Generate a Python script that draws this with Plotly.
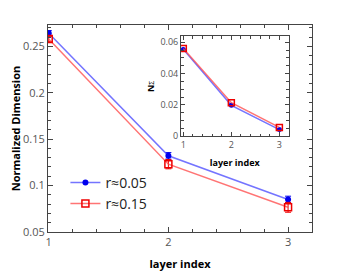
import plotly.graph_objects as go

layers = [1, 2, 3]
main_r005 = [0.264, 0.132, 0.085]
main_r005_err = [0.003, 0.0035, 0.0035]
main_r015 = [0.258, 0.123, 0.0765]
main_r015_err = [0.003, 0.005, 0.0053]
inset_r005 = [0.0555, 0.0198, 0.0043]
inset_r015 = [0.0560, 0.0215, 0.0057]
series_names = ["r≈0.05", "r≈0.15"]

BLUE_LINE = "rgba(70,70,255,0.75)"
BLUE = "#0000ee"
RED_LINE = "rgba(255,70,70,0.75)"
RED = "#ee0000"
AX = "#444444"
TICKC = "#555555"
FONT = "Open Sans, Noto Sans, DejaVu Sans"

fig = go.Figure()
fig.add_trace(go.Scatter(
    x=layers, y=main_r005, name=series_names[0], mode="lines+markers",
    line=dict(color=BLUE_LINE, width=1.5),
    marker=dict(symbol="circle", size=6, color=BLUE),
    error_y=dict(type="data", array=main_r005_err, color=BLUE, thickness=1, width=3),
))
fig.add_trace(go.Scatter(
    x=layers, y=main_r015, name=series_names[1], mode="lines+markers",
    line=dict(color=RED_LINE, width=1.5),
    marker=dict(symbol="square-open", size=7, color=RED, line=dict(width=1.5, color=RED)),
    error_y=dict(type="data", array=main_r015_err, color=RED, thickness=1, width=3),
))
fig.add_trace(go.Scatter(
    x=layers, y=inset_r005, mode="lines+markers", showlegend=False,
    xaxis="x2", yaxis="y2",
    line=dict(color=BLUE_LINE, width=1.5),
    marker=dict(symbol="circle", size=5, color=BLUE),
))
fig.add_trace(go.Scatter(
    x=layers, y=inset_r015, mode="lines+markers", showlegend=False,
    xaxis="x2", yaxis="y2",
    line=dict(color=RED_LINE, width=1.5),
    marker=dict(symbol="square-open", size=6, color=RED, line=dict(width=1.5, color=RED)),
))

common = dict(showline=True, linecolor=AX, linewidth=1, mirror="ticks", ticks="inside",
              tickcolor=AX, showgrid=False, zeroline=False, automargin=False)

fig.update_layout(
    width=349, height=279,
    margin=dict(l=39.5, r=44.5, t=16.5, b=54.5, autoexpand=False),
    paper_bgcolor="white", plot_bgcolor="white",
    font=dict(family=FONT, color=TICKC),
    showlegend=True,
    legend=dict(x=0.066, y=0.315, xanchor="left", yanchor="top",
                bgcolor="rgba(0,0,0,0)", font=dict(size=14, color="#222222", family=FONT),
                tracegroupgap=0, itemwidth=30),
    xaxis=dict(range=[0.994, 3.2], tickvals=[1, 2, 3], ticklen=5,
               tickfont=dict(size=11, color=TICKC),
               minor=dict(dtick=0.2, tick0=1, ticks="inside", ticklen=3, tickcolor=AX),
               title=dict(text="<b>layer index</b>", font=dict(size=11, color="black"), standoff=12),
               **common),
    yaxis=dict(range=[0.0499, 0.273], tickvals=[0.05, 0.1, 0.15, 0.2, 0.25],
               ticktext=["0.05", "0.1", "0.15", "0.2", "0.25"], ticklen=5,
               tickfont=dict(size=11, color=TICKC),
               minor=dict(dtick=0.01, tick0=0.05, ticks="inside", ticklen=3, tickcolor=AX),
               title=dict(text="<b>Normalized Dimension</b>", font=dict(size=11, color="black"), standoff=6),
               **common),
    xaxis2=dict(domain=[0.504, 0.911], anchor="y2", range=[0.953, 3.19], tickvals=[1, 2, 3],
                ticklen=4, tickfont=dict(size=9, color=TICKC),
                minor=dict(dtick=0.2, tick0=1, ticks="inside", ticklen=2.5, tickcolor=AX),
                title=dict(text="<b>layer index</b>", font=dict(size=9, color="black"), standoff=9),
                **common),
    yaxis2=dict(domain=[0.4615, 0.945], anchor="x2", range=[-0.0001, 0.0638],
                tickvals=[0, 0.02, 0.04, 0.06], ticktext=["0", "0.02", "0.04", "0.06"],
                ticklen=4, tickfont=dict(size=9, color=TICKC),
                minor=dict(dtick=0.005, tick0=0, ticks="inside", ticklen=2.5, tickcolor=AX),
                title=dict(text="<b>N</b><span style='font-size:7px'>Σ</span>",
                           font=dict(size=9, color="black"), standoff=4),
                **common),
)

fig.write_html("out.html")
